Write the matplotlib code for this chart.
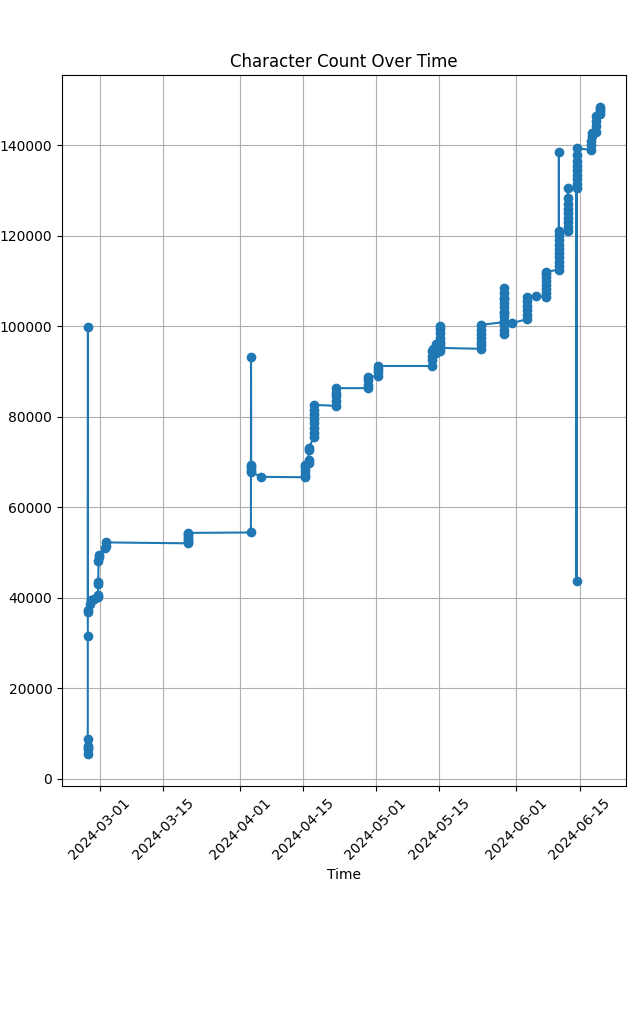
import pandas as pd
import matplotlib
import matplotlib.pyplot as plt
import matplotlib.dates as mdates

matplotlib.use('Agg')

# character count snapshots
times = [
    '2024-02-27 08:30', '2024-02-27 08:40', '2024-02-27 08:50', '2024-02-27 09:00',
    '2024-02-27 09:10', '2024-02-27 09:30', '2024-02-27 09:50', '2024-02-27 10:00',
    '2024-02-27 10:10',
    '2024-02-27 21:00', '2024-02-28 02:00', '2024-02-28 20:00',
    '2024-02-29 14:00', '2024-02-29 15:00', '2024-02-29 16:00', '2024-02-29 16:30',
    '2024-02-29 18:00', '2024-02-29 18:30', '2024-02-29 19:00',
    '2024-03-02 07:00', '2024-03-02 07:30', '2024-03-02 08:00',
    '2024-03-20 10:00', '2024-03-20 10:10', '2024-03-20 10:20', '2024-03-20 10:30',
    '2024-03-20 10:40', '2024-03-20 10:50', '2024-03-20 11:00',
    '2024-04-03 10:00', '2024-04-03 10:30', '2024-04-03 11:00', '2024-04-03 11:10',
    '2024-04-03 11:20', '2024-04-03 11:30',
    '2024-04-05 15:00',
    '2024-04-15 07:00', '2024-04-15 07:10', '2024-04-15 07:20', '2024-04-15 07:30',
    '2024-04-15 07:40',
    '2024-04-16 04:00', '2024-04-16 04:10', '2024-04-16 04:20', '2024-04-16 04:30',
    '2024-04-17 07:00', '2024-04-17 07:10', '2024-04-17 07:20', '2024-04-17 07:30',
    '2024-04-17 07:40', '2024-04-17 07:50', '2024-04-17 08:00', '2024-04-17 08:10',
    '2024-04-22 07:00', '2024-04-22 07:10', '2024-04-22 07:20', '2024-04-22 07:30',
    '2024-04-22 07:40',
    '2024-04-29 05:00', '2024-04-29 05:10', '2024-04-29 05:20', '2024-04-29 05:30',
    '2024-05-01 10:00', '2024-05-01 10:10', '2024-05-01 10:20', '2024-05-01 10:30',
    '2024-05-13 12:00', '2024-05-13 12:10', '2024-05-13 12:20', '2024-05-13 12:30',
    '2024-05-13 12:40',
    '2024-05-14 07:00', '2024-05-14 07:10', '2024-05-14 07:20',
    '2024-05-15 05:00', '2024-05-15 05:10', '2024-05-15 05:20', '2024-05-15 05:30',
    '2024-05-15 05:40', '2024-05-15 05:50', '2024-05-15 06:00', '2024-05-15 06:10',
    '2024-05-15 06:20',
    '2024-05-24 05:00', '2024-05-24 05:10', '2024-05-24 05:20', '2024-05-24 05:30',
    '2024-05-24 05:40', '2024-05-24 05:50', '2024-05-24 06:00',
    '2024-05-29 07:00', '2024-05-29 07:10', '2024-05-29 07:20', '2024-05-29 07:30',
    '2024-05-29 07:40', '2024-05-29 07:50', '2024-05-29 08:00', '2024-05-29 08:10',
    '2024-05-29 08:20', '2024-05-29 08:30', '2024-05-29 08:40', '2024-05-29 08:50',
    '2024-05-29 09:00', '2024-05-29 09:10', '2024-05-29 09:20',
    '2024-05-31 00:00',
    '2024-06-03 08:00', '2024-06-03 08:10', '2024-06-03 08:20', '2024-06-03 08:30',
    '2024-06-03 08:40', '2024-06-03 08:50',
    '2024-06-05 08:00',
    '2024-06-07 12:00', '2024-06-07 12:10', '2024-06-07 12:20', '2024-06-07 12:30',
    '2024-06-07 12:40', '2024-06-07 12:50', '2024-06-07 13:00', '2024-06-07 13:10',
    '2024-06-10 09:00', '2024-06-10 09:10', '2024-06-10 09:20', '2024-06-10 09:30',
    '2024-06-10 09:40', '2024-06-10 09:50', '2024-06-10 10:00', '2024-06-10 10:10',
    '2024-06-10 10:20', '2024-06-10 10:30', '2024-06-10 10:40',
    '2024-06-12 09:00', '2024-06-12 09:10', '2024-06-12 09:20', '2024-06-12 09:30',
    '2024-06-12 09:40', '2024-06-12 09:50', '2024-06-12 10:00', '2024-06-12 10:10',
    '2024-06-12 10:20',
    '2024-06-14 08:00', '2024-06-14 08:10', '2024-06-14 08:20', '2024-06-14 08:30',
    '2024-06-14 08:40', '2024-06-14 08:50', '2024-06-14 09:00', '2024-06-14 09:10',
    '2024-06-14 09:20', '2024-06-14 09:30',
    '2024-06-17 15:00', '2024-06-17 15:10', '2024-06-17 15:20', '2024-06-17 15:30',
    '2024-06-17 15:40',
    '2024-06-18 17:00', '2024-06-18 17:10', '2024-06-18 17:20', '2024-06-18 17:30',
    '2024-06-19 14:00', '2024-06-19 14:10', '2024-06-19 14:20', '2024-06-19 14:30',
]

char_counts = [
    5500, 6500, 7000, 7300,
    8800, 31600, 36800, 99800,
    37200,
    38500, 39500, 39800,
    40200, 40600, 43000, 43500,
    48000, 49000, 49400,
    50900, 51500, 52200,
    52000, 52400, 52800, 53200,
    53600, 54000, 54300,
    54400, 93200, 69300, 68800,
    68200, 67800,
    66700,
    66600, 67200, 68000, 68800,
    69300,
    69800, 70500, 72600, 73000,
    75500, 76300, 77500, 78500,
    79500, 80500, 81500, 82600,
    82400, 83500, 84500, 85300,
    86300,
    86300, 87000, 88000, 88800,
    89000, 89800, 90500, 91200,
    91200, 92500, 93500, 94500,
    95000,
    94000, 95000, 96000,
    94500, 95500, 96500, 97500,
    98500, 99300, 100000, 96000,
    95200,
    95000, 95800, 96600, 97400,
    98200, 99200, 100300,
    100900, 98200, 99200, 100200,
    101200, 102200, 103200, 104200,
    105200, 106200, 107300, 108400,
    106000, 103000, 100700,
    100700,
    101500, 102500, 103500, 104500,
    105500, 106500,
    106700,
    106500, 107300, 108200, 109100,
    110000, 110800, 111500, 112000,
    112500, 113400, 114300, 115200,
    116100, 117000, 118000, 119000,
    120200, 138400, 121000,
    121000, 122000, 123000, 124000,
    125000, 126000, 127000, 128300,
    130500,
    130500, 43600, 131500, 132500,
    133500, 134500, 135500, 136500,
    137800, 139300,
    139000, 140000, 141000, 142000,
    142600,
    143000, 144200, 145300, 146500,
    146800, 147500, 148000, 148400,
]

df = pd.DataFrame({
    'time': pd.to_datetime(times),
    'chars': char_counts
})

fig = plt.figure(figsize=(6.36, 10.1), dpi=100)
ax = fig.add_axes([0.0975, 0.2218, 0.8868, 0.704])

ax.plot(df['time'], df['chars'], marker='o')

ax.set_title('Character Count Over Time')
ax.set_xlabel('Time')
ax.grid(True)

ax.xaxis.set_major_locator(mdates.DayLocator(bymonthday=[1, 15]))
ax.xaxis.set_major_formatter(mdates.DateFormatter('%Y-%m-%d'))
plt.setp(ax.get_xticklabels(), rotation=45)

plt.savefig('out.png')
plt.close()
